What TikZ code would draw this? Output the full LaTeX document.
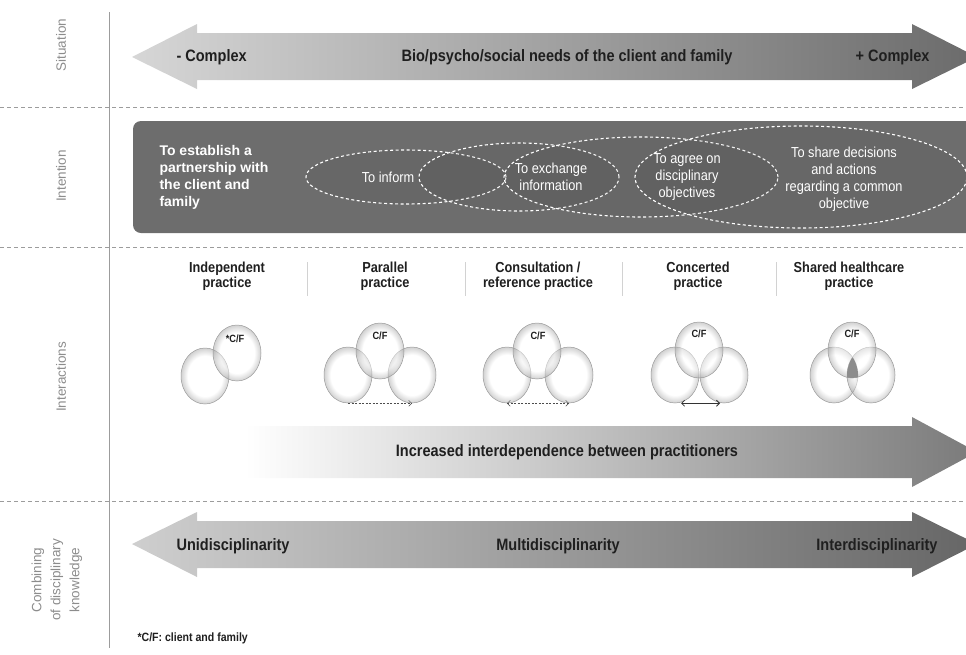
\documentclass[tikz,border=0pt]{standalone}
\usepackage{fontspec}
\setmainfont{Liberation Sans}[FakeStretch=0.88]
\newfontfamily\widefont{Liberation Sans}
\usepackage{tikz}
\usetikzlibrary{positioning, calc, shapes.geometric, arrows.meta}
\definecolor{boxgray}{HTML}{6D6D6D}
\definecolor{rulegray}{HTML}{9C9C9C}
\definecolor{labelgray}{HTML}{8C8C8C}
\pgfdeclareradialshading{rim}{\pgfpoint{0bp}{0bp}}{color(0bp)=(white); color(18bp)=(white); color(25bp)=(black!40); color(50bp)=(black!40)}
\tikzstyle{Divider} = [
%Dashed line between the rows:
draw=rulegray,
line width=0.9pt,
dash pattern=on 4pt off 3pt
]
\tikzstyle{Barb} = [
%Small open arrow tips:
arrows={Straight Barb[length=3pt, width=6pt]-Straight Barb[length=3pt, width=6pt]}
]

\begin{document}
\begin{tikzpicture}[x=1pt, y=-1pt,
				rowlabel/.style = {rotate=90, text=labelgray, align=center, font=\widefont\fontsize{13.5}{19}\selectfont},
				arrowtext/.style = {text=black!88, font=\bfseries\fontsize{16.5}{18}\selectfont},
				practice/.style = {text=black!88, align=center, font=\bfseries\fontsize{14.5}{15}\selectfont},
				aim/.style = {text=white, align=center, font=\fontsize{14.5}{17}\selectfont},
				aimring/.style = {ellipse, draw=white, line width=1.1pt, dash pattern=on 3pt off 2.5pt, fill=black, fill opacity=0.05, inner sep=0},
				sphere/.style = {ellipse, draw=gray!80, line width=0.5pt, shade, shading=rim, fill opacity=0.45, minimum width=48, minimum height=56, inner sep=0},
				cf/.style = {text=black!88, font=\bfseries\fontsize{10.5}{11}\selectfont},
			]
			\useasboundingbox (0,0) rectangle (966,654);
			\clip (0,0) rectangle (966,654);

			% row labels and rules
			\node[rowlabel] (situation) at (61,45) {Situation};
			\node[rowlabel] (intention) at (61,176) {Intention};
			\node[rowlabel] (interactions) at (61,377) {Interactions};
			\node[rowlabel] (combining) at (57,580) {Combining\\of disciplinary\\knowledge};

			\draw[rulegray, line width=0.8pt] (109,12) -- (109,648);
			\draw[Divider] (0,107) -- (966,107);
			\draw[Divider] (0,247) -- (966,247);
			\draw[Divider] (0,501) -- (966,501);

			% situation
			\shade[left color=black!16, middle color=black!29, right color=black!58] (132,57) -- (197,24) -- (197,33) -- (912,33) -- (912,24) -- (977,57) -- (912,89) -- (912,80) -- (197,80) -- (197,89) -- cycle;
			\node[arrowtext, anchor=west] (lessC) at (173,57) {- Complex};
			\node[arrowtext] (needs) at (567,57) {Bio/psycho/social needs of the client and family};
			\node[arrowtext, anchor=east] (moreC) at (933,57) {+ Complex};

			% intention
			\fill[boxgray, rounded corners=8pt] (133,121) rectangle (990,233);
			\node[aimring, minimum width=200, minimum height=54] (inform) at (406,177) {};
			\node[aimring, minimum width=200, minimum height=68] (exchange) at (519,177) {};
			\node[aimring, minimum width=274, minimum height=80] (agree) at (641,177) {};
			\node[aimring, minimum width=332, minimum height=102] (share) at (801,177) {};
			\node[aim, anchor=west, align=left, font=\widefont\bfseries\fontsize{14}{17}\selectfont] (partner) at (156,177) {To establish a\\partnership with\\the client and\\family};
			\node[aim] (informT) at (388,177) {To inform};
			\node[aim] (exchangeT) at (551,177) {To exchange\\information};
			\node[aim] (agreeT) at (687,177) {To agree on\\disciplinary\\objectives};
			\node[aim] (shareT) at (844,179) {To share decisions\\and actions\\regarding a common\\objective};

			% interactions
			\node[practice] (indep) at (227,276) {Independent\\practice};
			\node[practice] (paral) at (385,276) {Parallel\\practice};
			\node[practice] (consult) at (538,276) {Consultation /\\reference practice};
			\node[practice] (concert) at (698,276) {Concerted\\practice};
			\node[practice] (shared) at (849,276) {Shared healthcare\\practice};
			\foreach \x in {307,465,622,776}
				\draw[gray!35, line width=1pt] (\x,262) -- (\x,296);

			\node[sphere] (indL) at (205,376) {};
			\node[sphere] (indC) at (237,353) {};
			\node[cf] (indCF) at (235,339) {*C/F};

			\node[sphere] (parL) at (348,375) {};
			\node[sphere] (parR) at (412,375) {};
			\node[sphere] (parC) at (380,351) {};
			\node[cf] (parCF) at (380,336) {C/F};

			\node[sphere] (conL) at (507,375) {};
			\node[sphere] (conR) at (569,375) {};
			\node[sphere] (conC) at (537,351) {};
			\node[cf] (conCF) at (538,336) {C/F};

			\node[sphere] (ccoL) at (675,375) {};
			\node[sphere] (ccoR) at (724,375) {};
			\node[sphere] (ccoC) at (699,350) {};
			\node[cf] (ccoCF) at (699,334) {C/F};

			\node[sphere] (shaL) at (834,375) {};
			\node[sphere] (shaR) at (871,375) {};
			\node[sphere] (shaC) at (852,350) {};
			\node[cf] (shaCF) at (852,334) {C/F};
			\begin{scope}
				\clip (shaL.center) ellipse [x radius=24pt, y radius=28pt];
				\clip (shaR.center) ellipse [x radius=24pt, y radius=28pt];
				\fill[black!45] (shaC.center) ellipse [x radius=24pt, y radius=28pt];
			\end{scope}

			\draw[black!70, dash pattern=on 2pt off 1.5pt, -{Straight Barb[length=3pt, width=6pt]}] (parL.south) -- (parR.south);
			\draw[black!70, dash pattern=on 2pt off 1.5pt, Barb] (conL.south) -- (conR.south);
			\draw[black!80, line width=0.8pt, Barb, shorten <=6pt, shorten >=4pt] (ccoL.south) -- (ccoR.south);

			\shade[left color=white, middle color=black!16, right color=black!52] (245,426) -- (912,426) -- (912,417) -- (977,452) -- (912,487) -- (912,478) -- (245,478) -- cycle;
			\node[arrowtext] (interdep) at (567,452) {Increased interdependence between practitioners};

			% combining of knowledge
			\shade[left color=black!19, middle color=black!33, right color=black!60] (132,544) -- (197,512) -- (197,521) -- (912,521) -- (912,512) -- (977,544) -- (912,577) -- (912,568) -- (197,568) -- (197,577) -- cycle;
			\node[arrowtext, anchor=west] (uni) at (173,546) {Unidisciplinarity};
			\node[arrowtext] (multi) at (558,546) {Multidisciplinarity};
			\node[arrowtext, anchor=east] (inter) at (941,546) {Interdisciplinarity};

			\node[anchor=west, text=black!88, font=\bfseries\fontsize{12}{13}\selectfont] (note) at (134,638) {*C/F: client and family};

		\end{tikzpicture}
\end{document}
